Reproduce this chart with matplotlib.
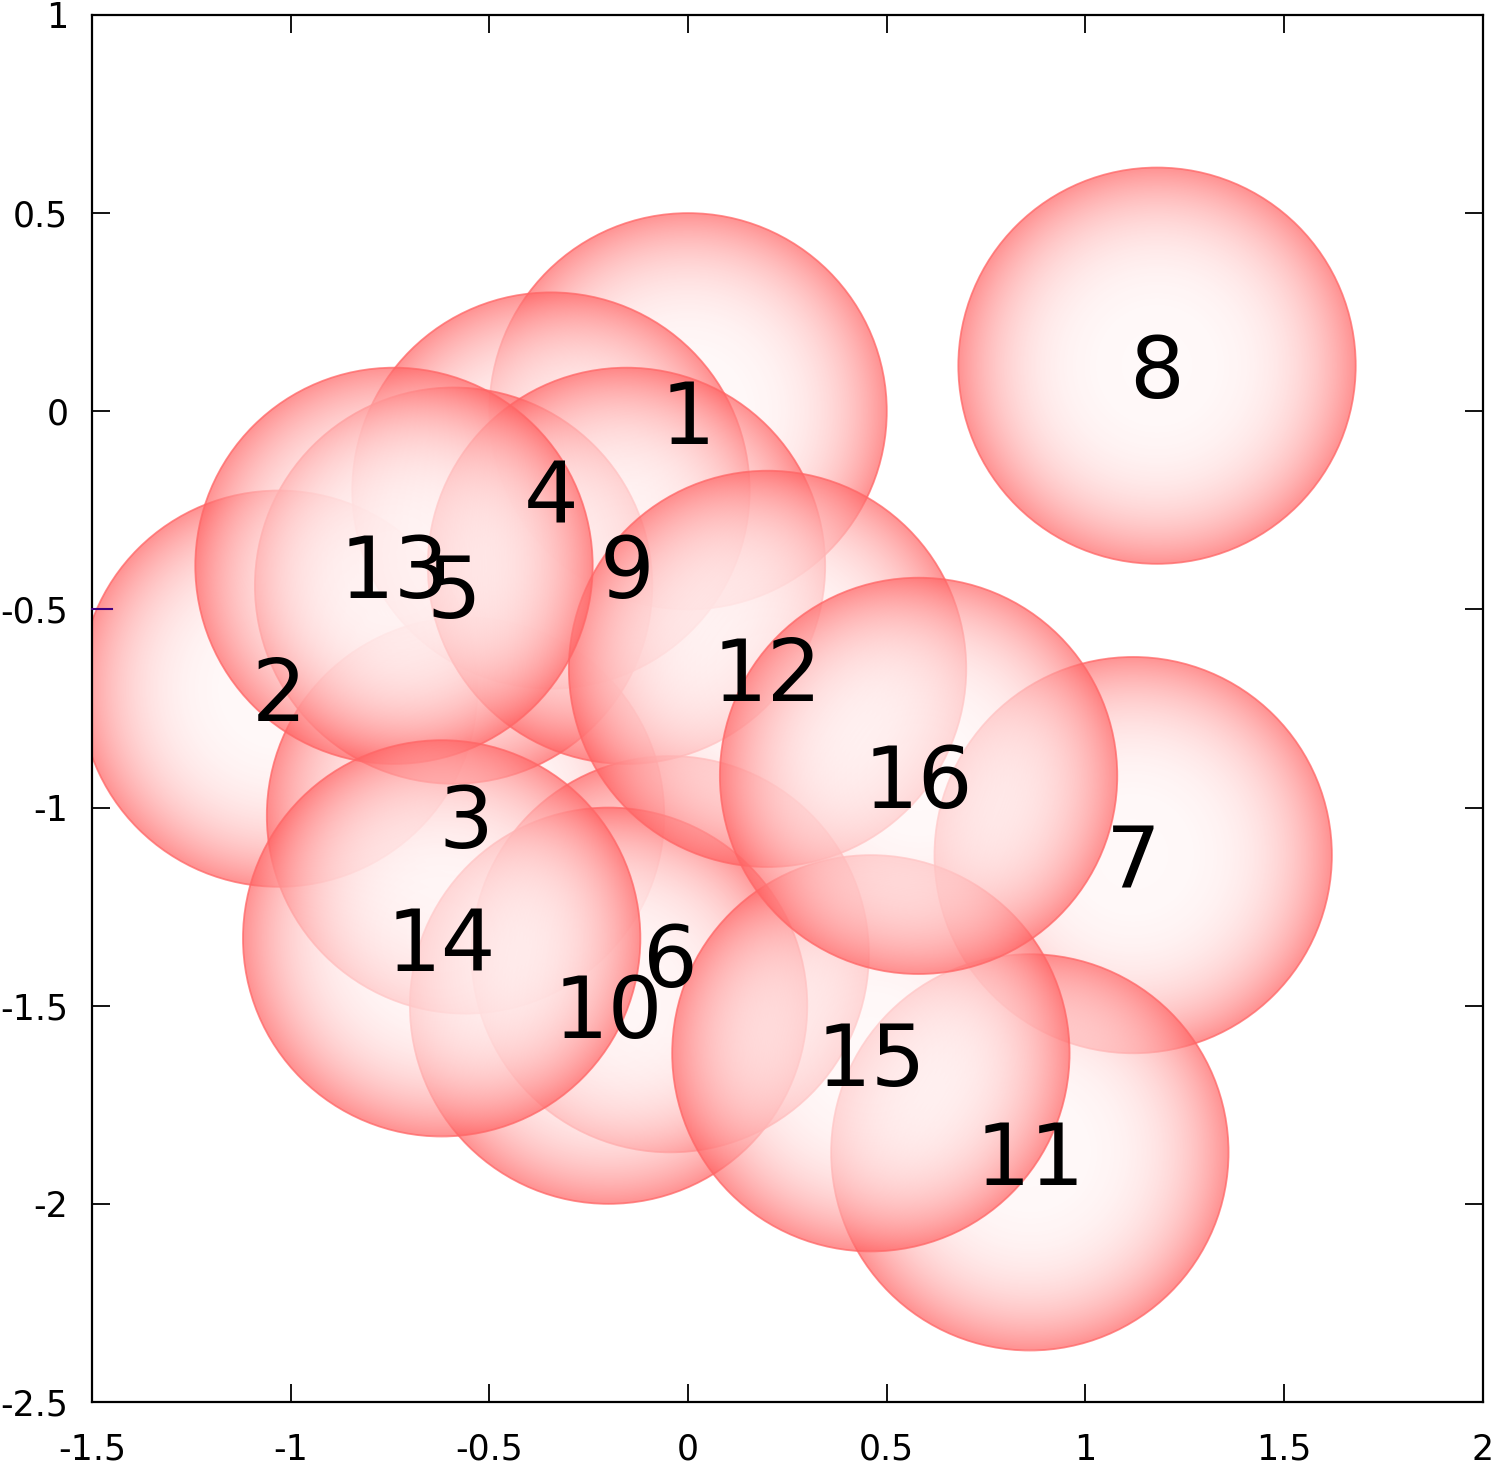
import numpy as np
import matplotlib
matplotlib.use('Agg')
import matplotlib.pyplot as plt
from matplotlib.patches import Circle

# circle centres (radius 0.5) and their labels
labels = ['1', '2', '3', '4', '5', '6', '7', '8',
          '9', '10', '11', '12', '13', '14', '15', '16']
cx = [0.0, -1.03, -0.56, -0.345, -0.59, -0.045, 1.12, 1.18,
      -0.155, -0.2, 0.86, 0.2, -0.74, -0.62, 0.46, 0.58]
cy = [0.0, -0.70, -1.02, -0.2, -0.44, -1.37, -1.12, 0.115,
      -0.39, -1.5, -1.87, -0.65, -0.39, -1.33, -1.62, -0.92]
radius = 0.5

xticks = [-1.5, -1, -0.5, 0, 0.5, 1, 1.5, 2]
yticks = [-2.5, -2, -1.5, -1, -0.5, 0, 0.5, 1]
xticklabels = ['-1.5', '-1', '-0.5', '0', '0.5', '1', '1.5', '2']
yticklabels = ['-2.5', '-2', '-1.5', '-1', '-0.5', '0', '0.5', '1']

fig = plt.figure(figsize=(15, 14.67), dpi=100)
ax = fig.add_axes([0.0613, 0.0443, 0.9273, 0.9455])

# radial gradient, white in the middle, red at the rim, fairly opaque
n = 300
g = np.linspace(-1, 1, n)
gx, gy = np.meshgrid(g, g)
rr = np.clip(np.sqrt(gx**2 + gy**2), 0, 1)
shade = 1 - (0.03 + 0.58 * rr**3.5)
tex = np.zeros((n, n, 4))
tex[..., 0] = 1.0
tex[..., 1] = shade
tex[..., 2] = shade
tex[..., 3] = 0.7

for i in range(len(labels)):
    ext = [cx[i] - radius, cx[i] + radius, cy[i] - radius, cy[i] + radius]
    im = ax.imshow(tex, extent=ext, origin='lower', interpolation='bilinear',
                   aspect='auto', zorder=2)
    edge = Circle((cx[i], cy[i]), radius, facecolor='none',
                  edgecolor=(1, 0.4, 0.4, 0.75), lw=1.3, zorder=2)
    ax.add_patch(edge)
    im.set_clip_path(edge)

for i in range(len(labels)):
    ax.text(cx[i], cy[i], labels[i], fontsize=62, ha='center',
            va='center_baseline', color='black', zorder=5)

# small purple mark at the left edge
ax.plot([-1.5, -1.45], [-0.5, -0.5], color='#400080', lw=1.5, zorder=6,
        clip_on=False)

ax.set_xlim(-1.5, 2)
ax.set_ylim(-2.5, 1)
ax.set_aspect('auto')
ax.set_xticks(xticks)
ax.set_xticklabels(xticklabels)
ax.set_yticks(yticks)
ax.set_yticklabels(yticklabels)
ax.tick_params(direction='in', length=13, width=1.3, labelsize=25,
               top=True, right=True)
ax.tick_params(axis='x', pad=22)
ax.tick_params(axis='y', pad=17)
for s in ax.spines.values():
    s.set_linewidth(1.6)

plt.savefig('out.png', dpi=100)
